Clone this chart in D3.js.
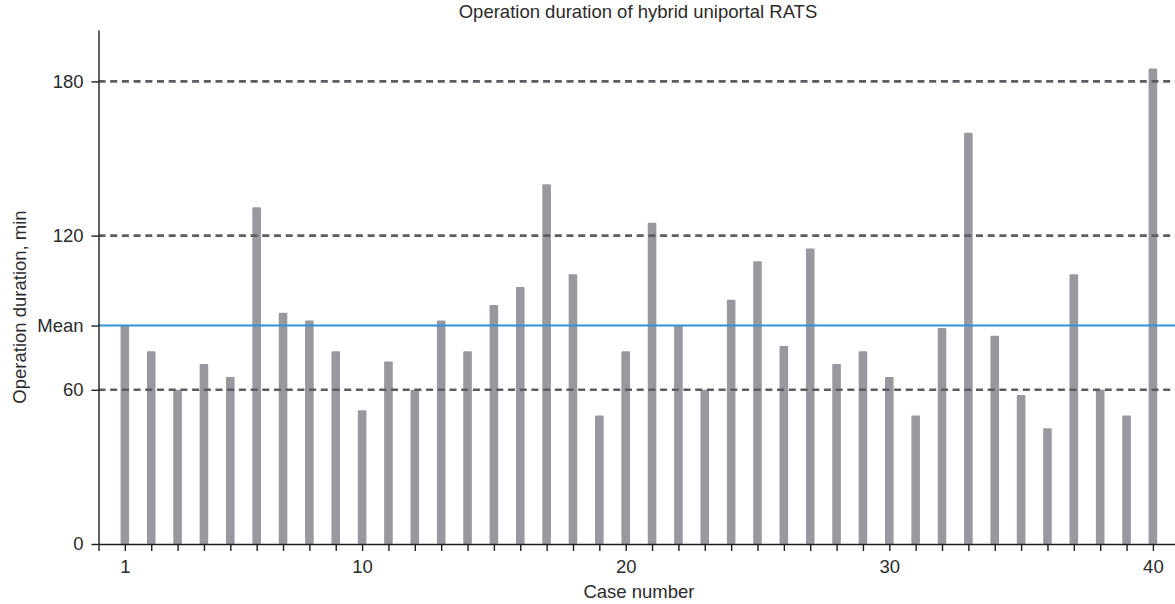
<!DOCTYPE html>
<html>
<head>
<meta charset="utf-8">
<script src="https://cdn.jsdelivr.net/npm/d3@7"></script>
<style>
  html, body { margin: 0; padding: 0; background: #ffffff; }
  svg { display: block; font-family: "Liberation Sans", Arial, Helvetica, sans-serif; }
</style>
</head>
<body>
<svg id="chart" width="1175" height="604"></svg>
<script>
// ---- Data ----
const cases = d3.range(1, 41);
const durations = [
  85, 75, 60, 70, 65, 131, 90, 87, 75, 52,
  71, 60, 87, 75, 93, 100, 140, 105, 50, 75,
  125, 85, 60, 95, 110, 77, 115, 70, 75, 65,
  50, 84, 160, 81, 58, 45, 105, 60, 50, 185
];
const meanValue = 85;
const referenceLines = [60, 120, 180];
const yTickValues = [0, 60, 85, 120, 180];
const xTickLabels = [1, 10, 20, 30, 40];
const titleText = "Operation duration of hybrid uniportal RATS";
const xLabelText = "Case number";
const yLabelText = "Operation duration, min";

// ---- Layout ----
const W = 1175, H = 604;
const svg = d3.select("#chart");

const x = d3.scaleLinear().domain([0, 41]).range([98.5, 98.5 + 41 * 26.36]);
const y = d3.scaleLinear().domain([0, 200]).range([544, 30]);

const barW = 8.6;
const barColor = "#98999f";
const textColor = "#2b2b2b";
const fontSize = 18.5;

// Bars
svg.append("g").selectAll("rect")
  .data(cases)
  .join("rect")
  .attr("x", (d) => x(d) - barW / 2)
  .attr("y", (d, i) => y(durations[i]))
  .attr("width", barW)
  .attr("height", (d, i) => y(0) - y(durations[i]))
  .attr("rx", 1)
  .attr("fill", barColor);

// Dashed reference lines
svg.append("g").selectAll("line")
  .data(referenceLines)
  .join("line")
  .attr("x1", x(0))
  .attr("x2", W)
  .attr("y1", (d) => y(d))
  .attr("y2", (d) => y(d))
  .attr("stroke", "#5c5d62")
  .attr("stroke-width", 2.6)
  .attr("stroke-dasharray", "7,4.7");

// Mean line
svg.append("line")
  .attr("x1", x(0))
  .attr("x2", W)
  .attr("y1", y(meanValue))
  .attr("y2", y(meanValue))
  .attr("stroke", "#2f93d6")
  .attr("stroke-width", 2);

// Y axis
const yAxis = d3.axisLeft(y)
  .tickValues(yTickValues)
  .tickFormat((d) => d === meanValue ? "Mean" : d)
  .tickSize(7)
  .tickSizeOuter(0)
  .tickPadding(8);
const gy = svg.append("g")
  .attr("transform", `translate(${x(0)},0)`)
  .call(yAxis);

// X axis
const xAxis = d3.axisBottom(x)
  .tickValues(d3.range(0, 41))
  .tickFormat((d) => xTickLabels.includes(d) ? d : "")
  .tickSize(7)
  .tickSizeOuter(0)
  .tickPadding(9);
const gx = svg.append("g")
  .attr("transform", `translate(0,${y(0)})`)
  .call(xAxis);

[gx, gy].forEach((g) => {
  g.select(".domain").attr("stroke", "#1e1e1e").attr("stroke-width", 1.4);
  g.selectAll(".tick line").attr("stroke", "#1e1e1e").attr("stroke-width", 1.4);
  g.selectAll(".tick text")
    .attr("fill", textColor)
    .style("font-size", fontSize + "px")
    .style("font-family", '"Liberation Sans", Arial, sans-serif');
});

// Title
svg.append("text")
  .attr("x", 638)
  .attr("y", 18)
  .attr("text-anchor", "middle")
  .attr("fill", textColor)
  .style("font-size", fontSize + "px")
  .text(titleText);

// X label
svg.append("text")
  .attr("x", 639)
  .attr("y", 598)
  .attr("text-anchor", "middle")
  .attr("fill", textColor)
  .style("font-size", fontSize + "px")
  .text(xLabelText);

// Y label
svg.append("text")
  .attr("transform", `translate(26,${307}) rotate(-90)`)
  .attr("text-anchor", "middle")
  .attr("fill", textColor)
  .style("font-size", fontSize + "px")
  .text(yLabelText);
</script>
</body>
</html>
